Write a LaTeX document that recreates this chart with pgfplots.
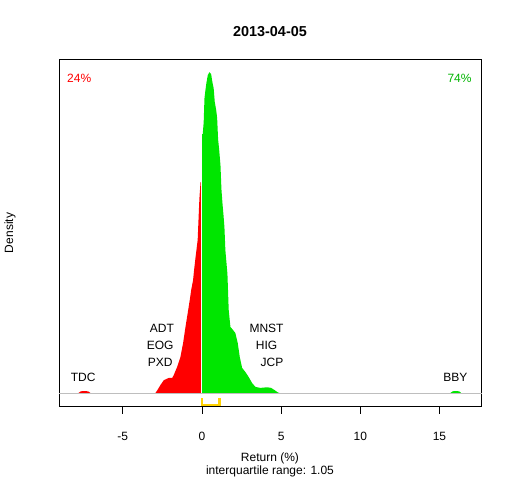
\documentclass[border=0pt]{standalone}
\usepackage{pgfplots}
\pgfplotsset{compat=1.18}
\usepackage{fontspec}
\setmainfont{Liberation Sans}
\definecolor{rgreen}{RGB}{0,230,0}
\definecolor{tgreen}{RGB}{0,180,0}
\definecolor{rgold}{RGB}{255,210,0}
\definecolor{rgray}{RGB}{190,190,190}
\begin{document}
\begin{tikzpicture}
\useasboundingbox (0,0) rectangle (512pt,480pt);
\begin{axis}[
  at={(59.3pt,73.5pt)}, anchor=south west,
  scale only axis, width=422.4pt, height=347pt,
  xmin=-9.01, xmax=17.67, ymin=-0.042, ymax=1.0396,
  xtick={-5,0,5,10,15}, xticklabels={-5,0,5,10,15},
  ytick=\empty,
  xtick pos=bottom, tick align=outside, major tick length=7pt,
  tick style={black, line width=0.8pt},
  axis line style={line width=0.8pt},
  xticklabel style={font=\fontsize{12}{14}\selectfont, anchor=base, yshift=-26.5pt},
  /pgf/number format/assume math mode=true,
  clip=false,
]
% TDC bump (red)
\addplot [fill=red, draw=none] coordinates {
(-7.80,0) (-7.67,0.0047) (-7.54,0.0062) (-7.35,0.0062) (-7.17,0.0047) (-7.04,0)
} -- cycle;
% main left part (red)
\addplot [fill=red, draw=none] coordinates {
(-2.94,0) (-2.81,0.0093) (-2.62,0.025) (-2.41,0.040) (-2.10,0.047) (-1.88,0.047)
(-1.78,0.056) (-1.57,0.081) (-1.36,0.112) (-1.19,0.156) (-1.04,0.206) (-0.90,0.249)
(-0.77,0.290) (-0.68,0.321) (-0.56,0.352) (-0.51,0.377) (-0.41,0.421) (-0.35,0.445)
(-0.27,0.477) (-0.20,0.561) (-0.16,0.607) (-0.09,0.657) (-0.01,0.657) (-0.01,0)
} -- cycle;
% main right part (green)
\addplot [fill=rgreen, draw=none] coordinates {
(0.01,0) (0.01,0.807) (0.05,0.807) (0.11,0.844) (0.16,0.919) (0.22,0.944) (0.28,0.966)
(0.37,0.991) (0.47,1.0) (0.58,0.994) (0.66,0.969) (0.74,0.950) (0.81,0.907)
(0.90,0.882) (0.96,0.857) (1.02,0.791) (1.09,0.757) (1.17,0.710) (1.23,0.636)
(1.29,0.595) (1.36,0.555) (1.42,0.517) (1.48,0.445) (1.55,0.405) (1.61,0.371)
(1.69,0.259) (1.74,0.234) (1.80,0.206) (1.97,0.196) (2.11,0.187) (2.26,0.156)
(2.39,0.112) (2.54,0.078) (2.75,0.065) (2.95,0.050) (3.17,0.031) (3.38,0.019)
(3.69,0.016) (4.12,0.018) (4.37,0.016) (4.58,0.0093) (4.79,0.002) (4.89,0)
} -- cycle;
% BBY bump (green)
\addplot [fill=rgreen, draw=none] coordinates {
(15.69,0) (15.82,0.0047) (15.94,0.0062) (16.13,0.0062) (16.26,0.0047) (16.38,0)
} -- cycle;
% white line at zero
\addplot [white, line width=1pt] coordinates {(0,0) (0,0.81)};
% baseline
\addplot [rgray, line width=0.8pt] coordinates {(-9.01,0) (17.67,0)};
% interquartile bracket
\addplot [rgold, line width=2.5pt] coordinates {(0.0,-0.016) (0.0,-0.037) (1.1,-0.037) (1.1,-0.016)};
% labels
\node [font=\fontsize{12}{14}\selectfont] at (axis cs:-2.53,0.202) {ADT};
\node [font=\fontsize{12}{14}\selectfont] at (axis cs:-2.64,0.147) {EOG};
\node [font=\fontsize{12}{14}\selectfont] at (axis cs:-2.64,0.094) {PXD};
\node [font=\fontsize{12}{14}\selectfont] at (axis cs:4.08,0.202) {MNST};
\node [font=\fontsize{12}{14}\selectfont] at (axis cs:4.08,0.147) {HIG};
\node [font=\fontsize{12}{14}\selectfont] at (axis cs:4.43,0.094) {JCP};
\node [font=\fontsize{12}{14}\selectfont] at (axis cs:-7.50,0.049) {TDC};
\node [font=\fontsize{12}{14}\selectfont] at (axis cs:16.01,0.049) {BBY};
\node [font=\fontsize{12}{14}\selectfont, text=red] at (axis cs:-7.75,0.981) {24\%};
\node [font=\fontsize{12}{14}\selectfont, text=tgreen] at (axis cs:16.27,0.981) {74\%};
\end{axis}
\node [font=\fontsize{14.4}{16}\selectfont\bfseries] at (270pt,448pt) {2013-04-05};
\node [font=\fontsize{12}{14}\selectfont] at (270pt,22pt) {Return (\%)};
\node [font=\fontsize{12}{14}\selectfont] at (270pt,9pt) {interquartile range: 1.05};
\node [font=\fontsize{12}{14}\selectfont, rotate=90] at (10pt,247pt) {Density};
\end{tikzpicture}
\end{document}
